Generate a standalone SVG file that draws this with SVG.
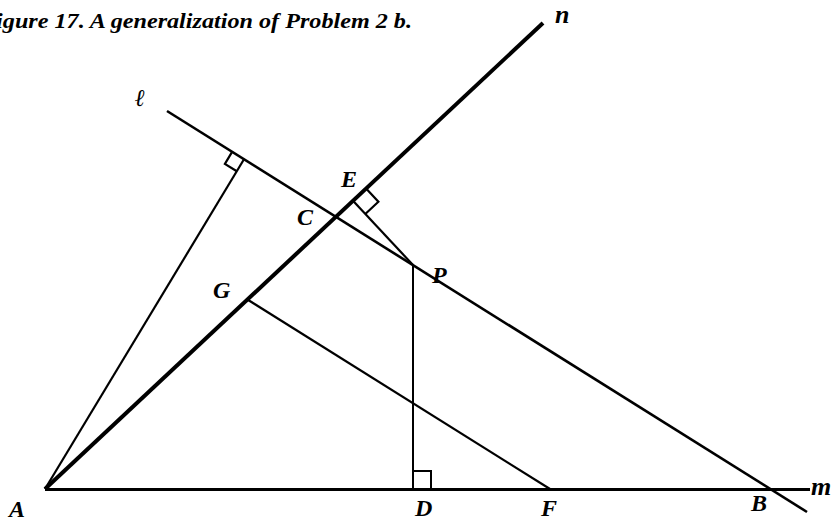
<svg xmlns="http://www.w3.org/2000/svg" width="837" height="521" viewBox="0 0 837 521">
<style>
.ln{stroke:#000;fill:none;stroke-linecap:butt}
.lb{font-family:"Liberation Serif","DejaVu Serif",serif;font-style:italic;font-weight:bold;font-size:24px;fill:#000}
.sm{font-size:26px}
.ttl{font-family:"Liberation Serif","DejaVu Serif",serif;font-style:italic;font-weight:bold;font-size:20px;fill:#000}
</style>
<rect width="837" height="521" fill="#fff"/>
<text class="ttl" x="-20" y="28" textLength="432" lengthAdjust="spacingAndGlyphs">Figure 17. A generalization of Problem 2 b.</text>
<g id="lines">
<line class="ln" x1="45" y1="489.5" x2="810" y2="489.5" stroke-width="3"/>
<line class="ln" x1="45" y1="489" x2="543" y2="23" stroke-width="4"/>
<line class="ln" x1="167" y1="111" x2="807" y2="512" stroke-width="2.6"/>
<line class="ln" x1="45" y1="489" x2="244" y2="159.3" stroke-width="2.2"/>
<line class="ln" x1="413" y1="265" x2="353" y2="200.8" stroke-width="2.2"/>
<line class="ln" x1="413" y1="265" x2="413" y2="489" stroke-width="2"/>
<line class="ln" x1="248.2" y1="300" x2="550" y2="489" stroke-width="2.2"/>
</g>
<g id="right-angles">
<path class="ln" stroke-width="2.2" d="M232.1,151.9 L224.9,163.9 L236.8,171.3"/>
<path class="ln" stroke-width="2.2" d="M366.1,188.5 L378.4,201.7 L365.3,214"/>
<path class="ln" stroke-width="2" d="M413,471 H431 V489"/>
</g>
<g id="label-n"><text class="lb sm" x="555" y="23">n</text></g>
<g id="label-l"><text class="lb" x="135" y="106" style="font-size:24px">ℓ</text></g>
<g id="label-m"><text class="lb sm" x="811" y="495">m</text></g>
<g id="point-E"><text class="lb" x="341" y="187">E</text></g>
<g id="point-C"><text class="lb" x="297" y="225">C</text></g>
<g id="point-P"><text class="lb" x="432" y="283">P</text></g>
<g id="point-G"><text class="lb" x="213" y="298">G</text></g>
<g id="point-A"><text class="lb" x="9" y="517">A</text></g>
<g id="point-D"><text class="lb" x="415" y="516">D</text></g>
<g id="point-F"><text class="lb" x="541" y="516">F</text></g>
<g id="point-B"><text class="lb" x="751" y="511">B</text></g>
</svg>
